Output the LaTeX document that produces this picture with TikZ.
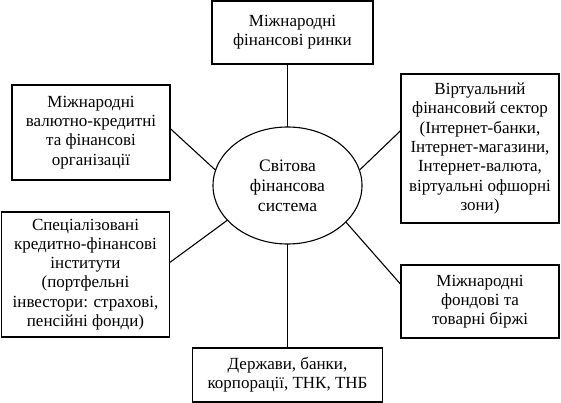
\documentclass[tikz,border=0pt]{standalone}
\usepackage{fontspec}
\setmainfont{Liberation Serif}
\usetikzlibrary{shapes.geometric}
\begin{document}
\begin{tikzpicture}[x=1pt,y=1pt,
  box/.style={draw,line width=1.1pt,rectangle,inner sep=0pt,outer sep=0pt,align=center,
    font=\fontsize{17}{19.3}\selectfont},
  oval/.style={draw,line width=1.1pt,ellipse,inner sep=0pt,outer sep=0pt,align=center,
    font=\fontsize{17.5}{20}\selectfont},
  link/.style={line width=1.1pt}]
\useasboundingbox (0,0) rectangle (561,-403);
\node[oval,minimum width=149pt,minimum height=117pt] (E) at (287.5,-185.5) {Світова\\фінансова\\система};
\node[box,minimum width=161pt,minimum height=63pt] (T) at (292.5,-32.5) {Міжнародні\\фінансові ринки};
\node[box,minimum width=158pt,minimum height=95pt] (LU) at (91,-132.5) {Міжнародні\\валютно-кредитні\\та фінансові\\організації};
\node[box,minimum width=158pt,minimum height=149pt] (RU) at (480,-148.5) {Віртуальний\\фінансовий сектор\\(Інтернет-банки,\\Інтернет-магазини,\\Інтернет-валюта,\\віртуальні офшорні\\зони)};
\node[box,minimum width=168pt,minimum height=125pt] (LL) at (85.5,-274.5) {Спеціалізовані\\кредитно-фінансові\\інститути\\(портфельні\\інвестори: страхові,\\пенсійні фонди)};
\node[box,minimum width=158pt,minimum height=73pt] (RL) at (480,-301.5) {Міжнародні\\фондові та\\товарні біржі};
\node[box,minimum width=190pt,minimum height=54pt] (B) at (287.5,-375) {Держави, банки,\\корпорації, ТНК, ТНБ};
\draw[link] (E.north) -- (E.north |- T.south);
\draw[link] (E.south) -- (E.south |- B.north);
\draw[link] (LU.3) -- (E.168);
\draw[link] (RU.167) -- (E.12);
\draw[link] (LL.8) -- (E.210);
\draw[link] (RL.168) -- (E.328);
\end{tikzpicture}
\end{document}
